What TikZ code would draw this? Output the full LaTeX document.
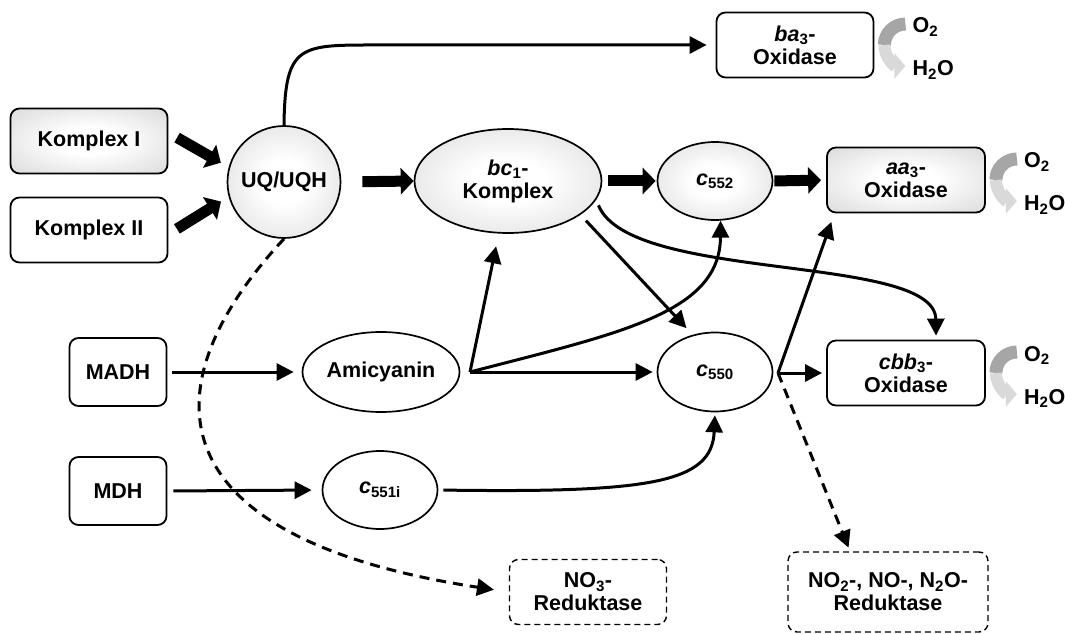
\documentclass[tikz,border=0pt]{standalone}
\usepackage{fontspec}
\setmainfont{Liberation Sans}
\usetikzlibrary{arrows.meta}
\usetikzlibrary{shapes.geometric}

\pgfdeclareradialshading{softgray}{\pgfpoint{0bp}{0bp}}{color(0bp)=(white); color(10bp)=(white); color(50bp)=(black!22)}

\begin{document}
\begin{tikzpicture}[x=1pt, y=1pt,
  font=\fontsize{21.5}{23}\selectfont\bfseries,
  box/.style={draw, line width=1.8pt, rounded corners=9pt, align=center, minimum width=157pt, minimum height=65pt, inner sep=0pt},
  dashbox/.style={box, line width=1.4pt, dash pattern=on 6pt off 4pt},
  ell/.style={draw, ellipse, line width=1.7pt, align=center, inner sep=0pt},
  grayfill/.style={shade, shading=softgray},
  fat/.style={line width=11pt, -{Triangle[length=13pt,width=26pt]}},
  link/.style={line width=3pt, -{Triangle[length=17pt,width=17pt]}},
  dashlink/.style={link, dash pattern=on 10pt off 7pt}]

\useasboundingbox (0,0) rectangle (1065,633);

% complexes
\node[box, grayfill] (k1) at (89,492) {Komplex I};
\node[box] (k2) at (89,403) {Komplex II};
\node[ell, grayfill, minimum width=113pt, minimum height=112pt] (uq) at (284,451) {\makebox[0pt]{UQ/UQH}};
\node[ell, grayfill, minimum width=187pt, minimum height=104pt] (bc1) at (508,452) {\textit{bc}\textsubscript{1}-\\Komplex};
\node[ell, grayfill, minimum width=115pt, minimum height=78pt] (c552) at (715,452) {\textit{c}\textsubscript{552}};

% oxidases
\node[box, grayfill, minimum width=158pt] (aa3) at (906,453) {\textit{aa}\textsubscript{3}-\\Oxidase};
\node[box] (ba3) at (795,588) {\textit{ba}\textsubscript{3}-\\Oxidase};
\node[box, minimum width=158pt] (cbb3) at (906,260) {\textit{cbb}\textsubscript{3}-\\Oxidase};

% dehydrogenases
\node[box, minimum width=97pt, minimum height=68pt] (madh) at (118,261) {MADH};
\node[box, minimum width=97pt, minimum height=68pt] (mdh) at (118,142) {MDH};
\node[ell, minimum width=157pt, minimum height=80pt] (ami) at (381,261) {Amicyanin};
\node[ell, minimum width=115pt, minimum height=79pt] (c550) at (715,261) {\textit{c}\textsubscript{550}};
\node[ell, minimum width=115pt, minimum height=78pt] (c551) at (380,143) {\textit{c}\textsubscript{551i}};

% reductases
\node[dashbox] (no3) at (588,41) {NO\textsubscript{3}-\\Reduktase};
\node[dashbox, minimum width=200pt, minimum height=80pt] (no2) at (888,41) {NO\textsubscript{2}-, NO-, N\textsubscript{2}O-\\Reduktase};

\coordinate (split) at (470,261);
\coordinate (fork) at (778,260);

% main chain
\draw[fat, shorten <=10pt, shorten >=9pt] (k1.6) -- (uq.165);
\draw[fat, shorten <=10pt, shorten >=9pt] (k2.-3) -- (uq.195);
\draw[fat, shorten <=21pt] (uq.east) -- (bc1.west);
\draw[fat, shorten <=6pt, shorten >=1pt] (bc1.east) -- (c552.west);
\draw[fat, shorten <=1pt, shorten >=5pt] (c552.east) -- (aa3.west);

\draw[link, shorten >=9pt] (uq.north) .. controls (285,590) and (300,588) .. (380,588) -- (ba3.west);
\draw[dashlink, shorten >=15pt] (uq.south) .. controls (145,245) and (155,95) .. (no3.west);

% methylamine / methanol
\draw[link, shorten <=5pt, shorten >=8pt] (madh.east) -- (ami.west);
\draw[link, shorten <=6pt, shorten >=10pt] (mdh.east) -- (c551.west);

\draw[link, shorten >=13pt] (split) -- (bc1.-100);
\draw[link] (split) .. controls (620,300) and (720,320) .. (c552.-82);
\draw[link, shorten >=4pt] (split) -- (c550.west);

\draw[link, shorten <=8pt, shorten >=9pt] (bc1.-25) -- (c550.121);
\draw[link, shorten <=6pt, shorten >=4pt] (bc1.-12) .. controls (630,350) and (935,380) .. (cbb3.48);
\draw[link, shorten <=5pt, shorten >=3pt] (c551.east) .. controls (650,140) and (712,150) .. (c550.south);

% out of c550
\draw[link, shorten >=4pt] (fork) -- (cbb3.west);
\draw[link, shorten >=9pt] (fork) -- (aa3.205);
\draw[dashlink, shorten >=4pt] (fork) -- (no2.133);

% O2 -> H2O
\foreach \ox in {ba3, aa3, cbb3} {
  \begin{scope}[shift={(\ox.east)}]
    \draw[line width=13pt, black!35] (31,21) to[out=180, in=90] (10,0);
    \draw[line width=12pt, black!15, -{Triangle[length=11pt,width=25pt]}] (10,0) to[out=-90, in=180] (31,-21);
    \node[anchor=base west, inner sep=0pt] (\ox-o2) at (38,12) {O\textsubscript{2}};
    \node[anchor=base west, inner sep=0pt] (\ox-h2o) at (38,-31) {H\textsubscript{2}O};
  \end{scope}
}

\end{tikzpicture}
\end{document}
